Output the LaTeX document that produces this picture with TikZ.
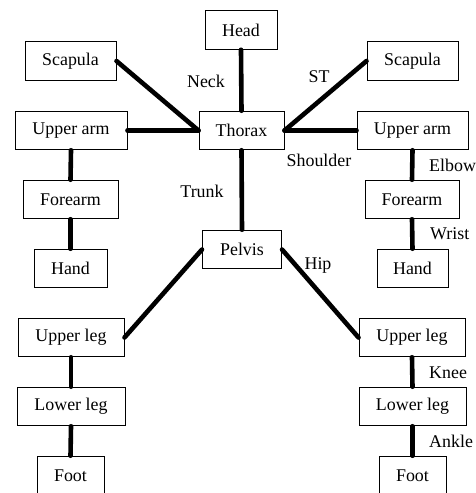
\documentclass[tikz,border=0pt]{standalone}
\usepackage{fontspec}
\setmainfont{Liberation Serif}
\newfontfamily\figfont{Liberation Serif}
\begin{document}
\begin{tikzpicture}[x=1pt,y=-1pt,
  box/.style={draw,line width=1pt,minimum height=38.5pt,inner sep=0pt,font=\figfont\fontsize{17.9}{20}\selectfont},
  lbl/.style={inner sep=0pt,font=\figfont\fontsize{17.9}{20}\selectfont},
  link/.style={line width=4.6pt,line cap=round}]
\useasboundingbox (0,0) rectangle (475,493);
\node[box,minimum width=72pt] (head) at (241,30) {Head};
\node[box,minimum width=91pt] (scapL) at (70.5,61) {Scapula};
\node[box,minimum width=91pt] (scapR) at (412.5,61) {Scapula};
\node[box,minimum width=85pt] (thorax) at (241.5,130.5) {Thorax};
\node[box,minimum width=112pt] (uarmL) at (71,130.5) {Upper arm};
\node[box,minimum width=111pt] (uarmR) at (412.5,130.5) {Upper arm};
\node[box,minimum width=95pt] (farmL) at (70.5,199.5) {Forearm};
\node[box,minimum width=94pt] (farmR) at (412,199.5) {Forearm};
\node[box,minimum width=73pt] (handL) at (70.5,268.5) {Hand};
\node[box,minimum width=71pt] (handR) at (412.5,268.5) {Hand};
\node[box,minimum width=79pt] (pelvis) at (242,249.5) {Pelvis};
\node[box,minimum width=106pt] (ulegL) at (71,337.5) {Upper leg};
\node[box,minimum width=106pt] (ulegR) at (412,337.5) {Upper leg};
\node[box,minimum width=108pt] (llegL) at (71,406.5) {Lower leg};
\node[box,minimum width=107pt] (llegR) at (412.5,406.5) {Lower leg};
\node[box,minimum width=67pt] (footL) at (70.5,475.5) {Foot};
\node[box,minimum width=67pt] (footR) at (412.5,475.5) {Foot};
\node[lbl] (neck) at (206,81) {Neck};
\node[lbl] (trunk) at (202,191) {Trunk};
\node[lbl] (st) at (319,77) {ST};
\node[lbl] (shoulder) at (319,160) {Shoulder};
\node[lbl,anchor=west] (elbow) at (429,165) {Elbow};
\node[lbl,anchor=west] (wrist) at (430,234) {Wrist};
\node[lbl] (hip) at (318,265) {Hip};
\node[lbl,anchor=west] (knee) at (429,373) {Knee};
\node[lbl,anchor=west] (ankle) at (429,441) {Ankle};
\draw[link] (head.south) -- (thorax.north);
\draw[link] (scapL.east) -- (thorax.west);
\draw[link] (uarmL.east) -- (thorax.west);
\draw[link] (thorax.east) -- (scapR.west);
\draw[link] (thorax.east) -- (uarmR.west);
\draw[link] (thorax.south) -- (pelvis.north);
\draw[link] (uarmL.south) -- (farmL.north);
\draw[link] (farmL.south) -- (handL.north);
\draw[link] (uarmR.south) -- (farmR.north);
\draw[link] (farmR.south) -- (handR.north);
\draw[link] (pelvis.west) -- (ulegL.east);
\draw[link] (pelvis.east) -- (ulegR.west);
\draw[link] (ulegL.south) -- (llegL.north);
\draw[link] (llegL.south) -- (footL.north);
\draw[link] (ulegR.south) -- (llegR.north);
\draw[link] (llegR.south) -- (footR.north);
\end{tikzpicture}
\end{document}
